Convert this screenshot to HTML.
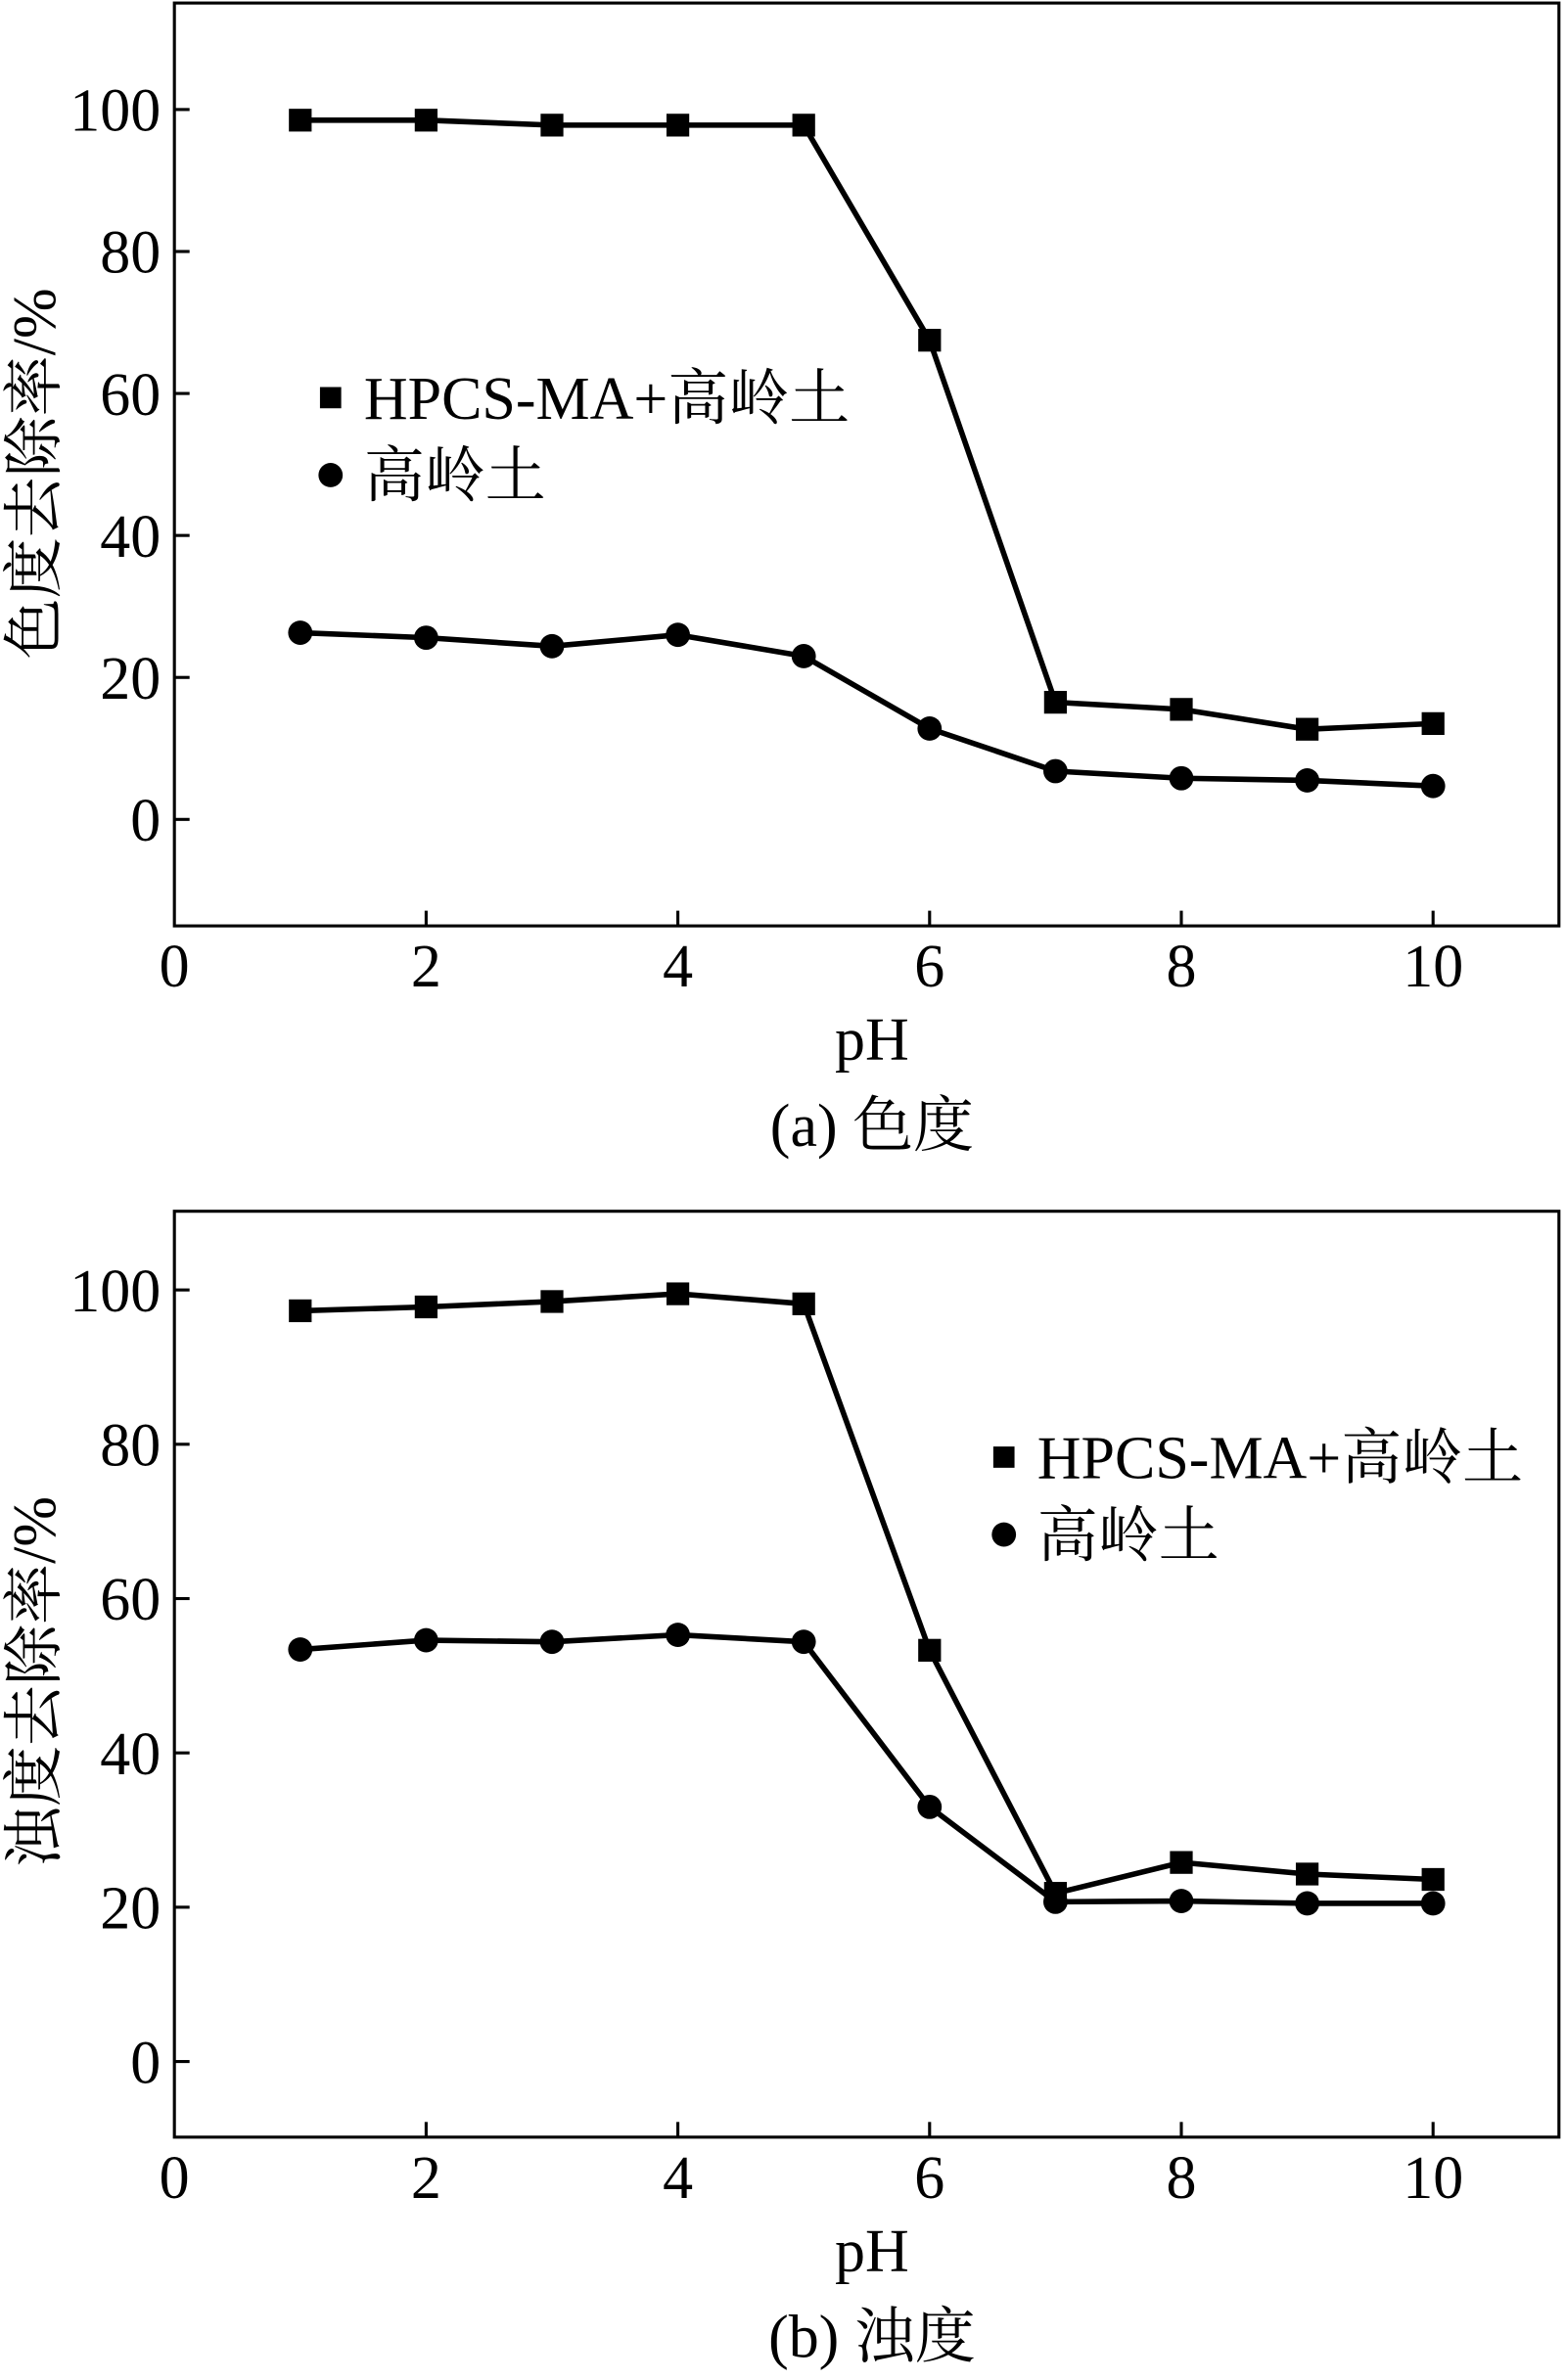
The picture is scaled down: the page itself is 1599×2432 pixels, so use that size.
<!DOCTYPE html>
<html><head><meta charset="utf-8"><style>
html,body{margin:0;padding:0;background:#fff;}
svg{display:block;}
text{font-family:"Liberation Serif","Noto Serif CJK SC","Noto Sans CJK SC",serif;fill:#000;}
</style></head><body>
<svg id="chart" width="1599" height="2432" viewBox="0 0 1032 1568" preserveAspectRatio="none" xmlns="http://www.w3.org/2000/svg"></svg>
<script>
const phValues = [1,2,3,4,5,6,7,8,9,10];
const colorHpcs = [98.5,98.5,97.8,97.8,97.8,67.5,16.5,15.5,12.7,13.5];
const colorKaolin = [26.3,25.6,24.4,26.0,23.0,12.8,6.8,5.8,5.5,4.7];
const turbHpcs = [97.3,97.8,98.5,99.5,98.2,53.3,21.8,25.8,24.3,23.6];
const turbKaolin = [53.4,54.6,54.4,55.3,54.4,33.0,20.7,20.8,20.5,20.5];
const xTicks = [0,2,4,6,8,10];
const yTicks = [0,20,40,60,80,100];
const legendHpcs = "HPCS-MA+高岭土";
const legendKaolin = "高岭土";

const NS = "http://www.w3.org/2000/svg";
const svg = document.getElementById('chart');
const FS = 40;
function mk(tag, attrs, parent){
  const e = document.createElementNS(NS, tag);
  for (const k in attrs) e.setAttribute(k, attrs[k]);
  (parent||svg).appendChild(e);
  return e;
}

function panel(cfg){
  const g = mk('g', {});
  
  
  const L=115, R=1028, T=cfg.top, B=cfg.bottom;
  const xS = v => L + (v - 0) / 11 * (R - L) ;
  const yS = v => B - (v - cfg.ymin) / (cfg.ymax - cfg.ymin) * (B - T);
  const frame = mk('rect', {x:L, y:T, width:R-L, height:B-T, fill:'none', stroke:'#000', 'stroke-width':2}, g);
  
  
  xTicks.forEach(t => {
    const x = xS(t);
    if (t>0) mk('line', {x1:x, x2:x, y1:B, y2:B-10, stroke:'#000','stroke-width':2}, g);
    const tx = mk('text', {x:x, y:B+40, 'font-size':FS, 'text-anchor':'middle'}, g);
    tx.textContent = t;
    
    
  });
  yTicks.forEach(t => {
    const y = yS(t);
    mk('line', {x1:L, x2:L+10, y1:y, y2:y, stroke:'#000','stroke-width':2}, g);
    const tx = mk('text', {x:106, y:y+14, 'font-size':FS, 'text-anchor':'end'}, g);
    tx.textContent = t;
    
    
  });
  const xt = mk('text', {x:575, y:B+88, 'font-size':FS, 'text-anchor':'middle'}, g);
  xt.textContent = 'pH';
  
  
  const cap = mk('text', {x:575, y:B+145, 'font-size':FS, 'text-anchor':'middle'}, g);
  cap.textContent = cfg.caption;
  
  
  const cy = cfg.titleY;
  const yt = mk('text', {x:0, y:0, 'font-size':FS, 'text-anchor':'middle', transform:`translate(36,${cy}) rotate(-90)`}, g);
  yt.textContent = cfg.ytitle;
  
  

  function series(vals, shape, nm){
    const sg = mk('g', {}, g);
    
    
    const pts = vals.map((v,i) => xS(phValues[i]) + ',' + yS(v)).join(' ');
    mk('polyline', {points:pts, fill:'none', stroke:'#000', 'stroke-width':3.6, 'stroke-linejoin':'round'}, sg);
    vals.forEach((v,i) => {
      const x = xS(phValues[i]), y = yS(v);
      let m;
      if (shape==='sq') m = mk('rect', {x:x-7.5, y:y-7.5, width:15, height:15, fill:'#000'}, sg);
      else m = mk('circle', {cx:x, cy:y, r:8, fill:'#000'}, sg);
      
      
    });
  }
  series(cfg.hpcs, 'sq', 'series-hpcs-ma-kaolin');
  series(cfg.kaolin, 'ci', 'series-kaolin');

  const lg = mk('g', {}, g);
  
  
  const lx = cfg.legX, ly = cfg.legY;
  const e1 = mk('g', {}, lg);
  
  
  mk('rect', {x:lx-7, y:ly-7, width:14, height:14, fill:'#000'}, e1);
  const t1 = mk('text', {x:lx+22, y:ly+14, 'font-size':FS}, e1);
  t1.textContent = legendHpcs;
  const e2 = mk('g', {}, lg);
  
  
  mk('circle', {cx:lx, cy:ly+51, r:8, fill:'#000'}, e2);
  const t2 = mk('text', {x:lx+22, y:ly+65, 'font-size':FS}, e2);
  t2.textContent = legendKaolin;
}

panel({name:'chart-a-color', top:2, bottom:610, ymin:-15, ymax:115, caption:'(a) 色度', ytitle:'色度去除率/%', titleY:312, hpcs:colorHpcs, kaolin:colorKaolin, legX:218, legY:262});
panel({name:'chart-b-turbidity', top:798, bottom:1408, ymin:-9.8, ymax:110.2, caption:'(b) 浊度', ytitle:'浊度去除率/%', titleY:1108, hpcs:turbHpcs, kaolin:turbKaolin, legX:662, legY:960});
</script>
</body></html>
